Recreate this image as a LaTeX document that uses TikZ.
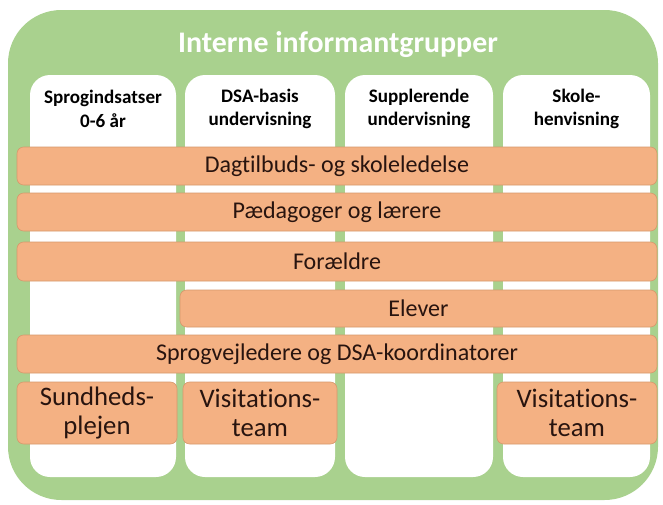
\documentclass[tikz,border=0pt]{standalone}
\usepackage{fontspec}
\setmainfont[Ligatures=NoCommon]{Carlito}
\definecolor{groupGreen}{RGB}{169,209,142}
\definecolor{barOrange}{RGB}{244,177,131}
\definecolor{barLine}{RGB}{214,152,108}
\definecolor{textDark}{RGB}{40,20,15}

\begin{document}
\begin{tikzpicture}
[x=0.03cm,y=-0.03cm,
  frameDecorate/.style={fill=groupGreen,draw=none,rounded corners=1.6cm},
  columnDecorate/.style={shape=rectangle,fill=white,draw=none,rounded corners=0.6cm,inner sep=0pt},
  headDecorate/.style={align=center,font=\fontsize{16.3}{20}\selectfont\bfseries,text=black},
  barDecorate/.style={shape=rectangle,fill=barOrange,draw=barLine,line width=0.5pt,
    rounded corners=0.2cm,inner sep=0pt,align=center,text=textDark,
    font=\fontsize{20.5}{24}\selectfont},
  teamDecorate/.style={barDecorate,font=\fontsize{22.8}{25}\selectfont}]
\useasboundingbox (0,0) rectangle (663,505);
%% frame
\fill[frameDecorate] (8,10) rectangle (658,500);
\node (title) at (338,45) [font=\fontsize{25.5}{30}\selectfont\bfseries,text=white] {Interne informantgrupper};
%% columns
\foreach \nodename/\xa/\xb/\txt in {
  sprog/30/176/{Sprogindsatser\\0-6 år},
  basis/185/335/{DSA-basis\\undervisning},
  suppl/345/493/{Supplerende\\undervisning},
  skole/503/650/{Skole-\\henvisning}}
{
  \node (\nodename) at ({(\xa+\xb)/2},276) [columnDecorate,
    minimum width={(\xb-\xa)*0.03cm},minimum height={(477-75)*0.03cm}] {};
  \node (\nodename-head) at ({(\xa+\xb)/2},109) [headDecorate] {\txt};
}
%% bars
\foreach \nodename/\xa/\xb/\ya/\yb/\txt in {
  ledelse/17/657/147/185/{Dagtilbuds- og skoleledelse},
  paed/17/657/193/231/{Pædagoger og lærere},
  foraeldre/17/657/242/281/{Forældre},
  elever/180/657/290/327/{Elever},
  vejleder/17/657/335/373/{Sprogvejledere og DSA-koordinatorer}}
{
  \node (\nodename) at ({(\xa+\xb)/2},{(\ya+\yb)/2}) [barDecorate,
    minimum width={(\xb-\xa)*0.03cm},minimum height={(\yb-\ya)*0.03cm}] {\txt};
}
%% teams
\foreach \nodename/\xa/\xb/\txt in {
  sundhed/17/177/{Sundheds-\\plejen},
  visitA/183/337/{Visitations-\\team},
  visitB/497/657/{Visitations-\\team}}
{
  \node (\nodename) at ({(\xa+\xb)/2},413) [teamDecorate,
    minimum width={(\xb-\xa)*0.03cm},minimum height={(444-382)*0.03cm}] {\txt};
}
\end{tikzpicture}
\end{document}
